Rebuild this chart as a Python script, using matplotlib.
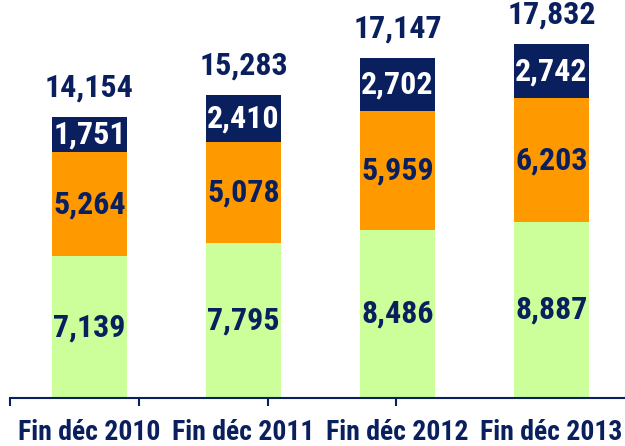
import matplotlib
matplotlib.use("Agg")
import matplotlib.pyplot as plt
from matplotlib import font_manager as fm
import numpy as np

categories = ["Fin déc 2010", "Fin déc 2011", "Fin déc 2012", "Fin déc 2013"]
bottom_vals = [7139, 7795, 8486, 8887]
middle_vals = [5264, 5078, 5959, 6203]
top_vals = [1751, 2410, 2702, 2742]
totals = [14154, 15283, 17147, 17832]

names = {f.name for f in fm.fontManager.ttflist}
fam = "DejaVu Sans"
for cand in ["Liberation Sans Narrow", "Roboto Condensed", "PT Sans Narrow", "Archivo Narrow", "Barlow Semi Condensed"]:
    if cand in names:
        fam = cand
        break
plt.rcParams['font.family'] = [fam, 'DejaVu Sans']

navy = "#0A1F5E"
green = "#CCFF99"
orange = "#FF9900"

fig = plt.figure(figsize=(6.25, 4.46), dpi=100)
ax = fig.add_axes([0.016, 48/446, 0.984, 398/446])

x = np.arange(len(categories))
w = 0.487
ax.bar(x, bottom_vals, w, color=green)
ax.bar(x, middle_vals, w, bottom=bottom_vals, color=orange)
b2 = np.array(bottom_vals) + np.array(middle_vals)
ax.bar(x, top_vals, w, bottom=b2, color=navy)

fs = 23
for i in range(len(x)):
    ax.text(x[i], bottom_vals[i] / 2, f"{bottom_vals[i]:,}", ha="center", va="center",
            fontsize=fs, fontweight="bold", color=navy)
    ax.text(x[i], bottom_vals[i] + middle_vals[i] / 2, f"{middle_vals[i]:,}", ha="center", va="center",
            fontsize=fs, fontweight="bold", color=navy)
    ax.text(x[i], b2[i] + top_vals[i] / 2, f"{top_vals[i]:,}", ha="center", va="center",
            fontsize=fs, fontweight="bold", color="white")
    ax.annotate(f"{totals[i]:,}", (x[i], totals[i]), xytext=(0, 21), textcoords="offset points",
                ha="center", va="center", fontsize=fs, fontweight="bold", color=navy)

ax.set_xlim(-0.516, 3.477)
ax.set_ylim(0, 20050)
for s in ["top", "right", "left"]:
    ax.spines[s].set_visible(False)
ax.spines["bottom"].set_color(navy)
ax.spines["bottom"].set_linewidth(1.5)
ax.set_yticks([])

ax.set_xticks(x)
ax.set_xticklabels(categories, fontsize=20, fontweight="bold", color=navy)
ax.tick_params(axis="x", which="major", length=0, pad=15)
ax.set_xticks([-0.516 + 0.836 * k for k in range(4)], minor=True)
ax.tick_params(axis="x", which="minor", length=6, width=1.5, color=navy, direction="out")

fig.savefig("out.png", dpi=100)
